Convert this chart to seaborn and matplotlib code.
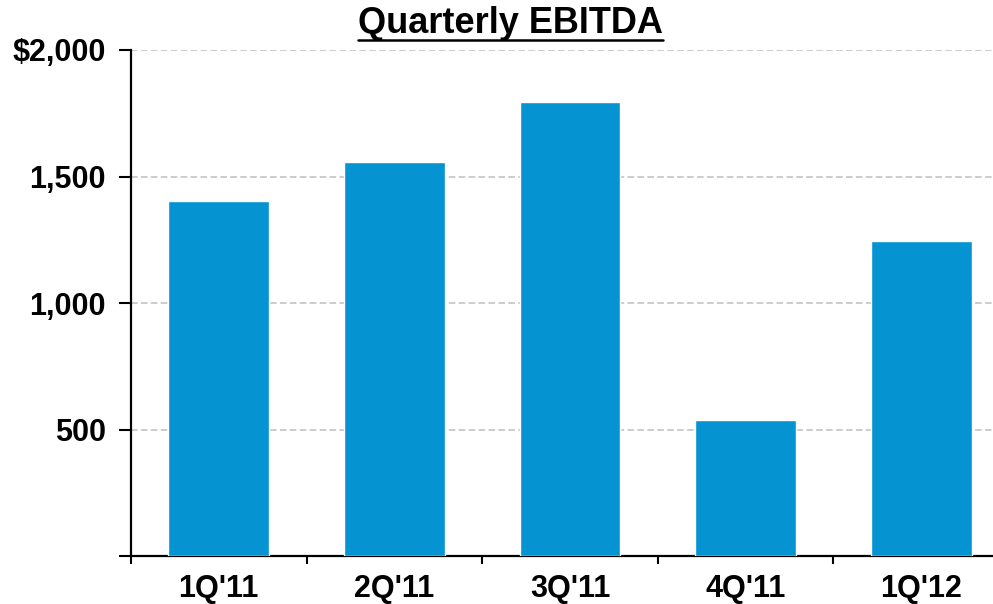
import matplotlib
matplotlib.use("Agg")
import matplotlib.pyplot as plt
from matplotlib.lines import Line2D
from matplotlib.ticker import FuncFormatter
import seaborn as sns

# data
quarters = ["1Q'11", "2Q'11", "3Q'11", "4Q'11", "1Q'12"]
ebitda = [1403, 1557, 1794, 537, 1245]
y_ticks = [0, 500, 1000, 1500, 2000]

sns.set_style("white")
plt.rcParams["font.family"] = ["Liberation Sans", "DejaVu Sans"]
plt.rcParams["font.weight"] = "bold"
plt.rcParams["text.color"] = "black"
plt.rcParams["xtick.color"] = "black"
plt.rcParams["ytick.color"] = "black"

fig = plt.figure(figsize=(9.93, 6.04), dpi=100)
ax = fig.add_axes([131 / 993, 48 / 604, 878 / 993, 506 / 604])

sns.barplot(x=quarters, y=ebitda, color="#0593D1", saturation=1, width=0.575, ax=ax, zorder=3)

ax.set_xlim(-0.5, 4.5)
ax.set_ylim(0, 2000)
ax.set_yticks(y_ticks)


def fmt(v, pos):
    if v == 0:
        return ""
    if v == 2000:
        return "$2,000"
    return f"{int(v):,}"


ax.yaxis.set_major_formatter(FuncFormatter(fmt))
ax.yaxis.grid(True, color="#BFBFBF", linestyle=(0, (4.3, 2.2)), linewidth=1.1, zorder=0)
ax.set_axisbelow(True)

# category ticks sit between the bars
ax.set_xticks([i - 0.5 for i in range(len(quarters) + 1)], minor=False)
ax.set_xticklabels([])
ax.set_xticks(range(len(quarters)), minor=True)
ax.set_xticklabels(quarters, minor=True, fontsize=22, fontweight="bold", color="black")
ax.tick_params(axis="x", which="major", direction="out", length=6, width=1.5, color="black", bottom=True)
ax.tick_params(axis="x", which="minor", length=0, pad=13)
ax.tick_params(axis="y", direction="out", length=9, width=1.5, color="black", left=True, pad=9,
               labelsize=22, labelcolor="black")
for lab in ax.get_yticklabels():
    lab.set_fontweight("bold")

sns.despine(ax=ax)
for side in ["left", "bottom"]:
    ax.spines[side].set_color("black")
    ax.spines[side].set_linewidth(1.6)
ax.set_xlabel("")
ax.set_ylabel("")

title = fig.text(0.514, 0.945, "Quarterly EBITDA", ha="center", va="baseline",
                 fontsize=26, fontweight="bold", color="black")
fig.canvas.draw()
bb = title.get_window_extent().transformed(fig.transFigure.inverted())
fig.add_artist(Line2D([bb.x0, bb.x1], [0.934, 0.934], color="black", linewidth=1.8,
                      transform=fig.transFigure))

fig.savefig("out.png", dpi=100)
